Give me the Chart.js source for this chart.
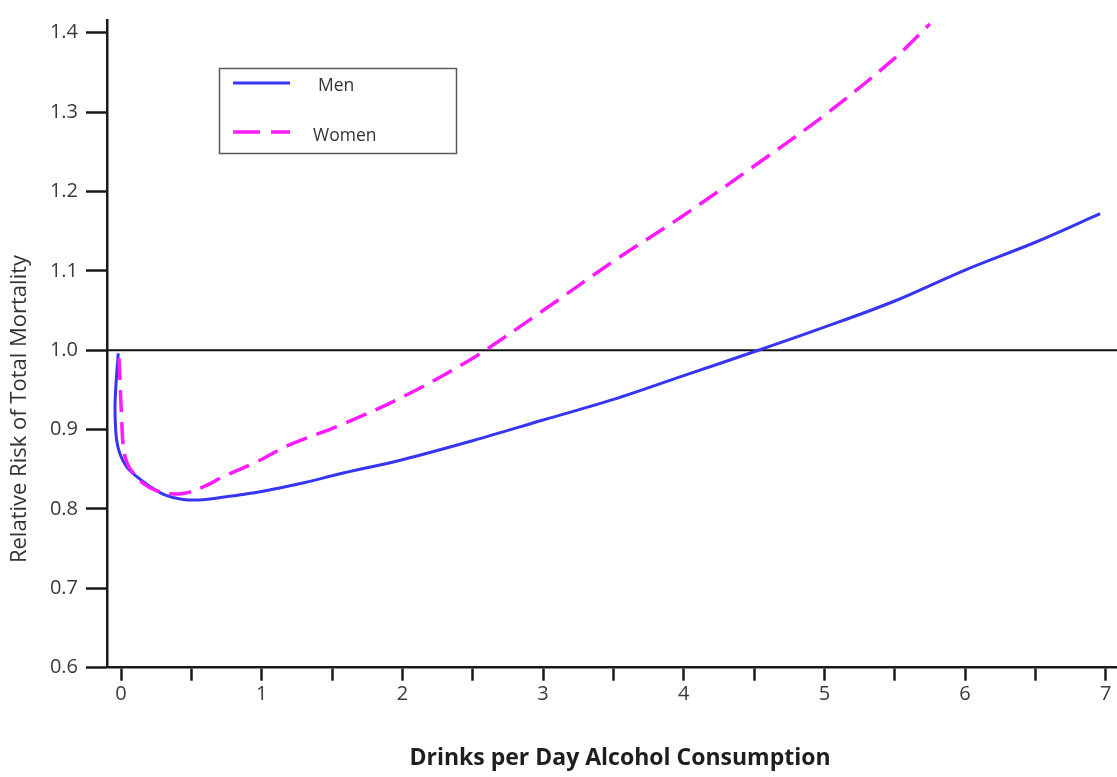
<!DOCTYPE html>
<html>
<head>
<meta charset="utf-8">
<script src="https://cdn.jsdelivr.net/npm/chart.js@4.4.1/dist/chart.umd.min.js"></script>
<style>
  html, body { margin: 0; padding: 0; background: #ffffff; }
  #wrap { width: 1117px; height: 777px; }
</style>
</head>
<body>
<div id="wrap"><canvas id="c" width="1117" height="777"></canvas></div>
<script>
// Relative risk of total mortality by daily alcohol consumption
const menX   = [-0.02, -0.035, -0.043, -0.04, -0.03, -0.007, 0.04, 0.11, 0.2, 0.32, 0.44, 0.6, 0.85, 1.0, 1.3, 1.55, 2.0, 2.5, 3.0, 3.5, 4.0, 4.5, 5.0, 5.5, 6.0, 6.5, 6.96];
const menY   = [0.996, 0.96, 0.93, 0.905, 0.885, 0.869, 0.853, 0.841, 0.829, 0.817, 0.812, 0.812, 0.818, 0.822, 0.833, 0.844, 0.862, 0.886, 0.912, 0.938, 0.968, 0.998, 1.029, 1.062, 1.101, 1.136, 1.172];

const womenX = [-0.015, -0.005, 0.005, 0.012, 0.025, 0.05, 0.087, 0.16, 0.25, 0.36, 0.46, 0.6, 0.73, 0.96, 1.2, 1.55, 2.0, 2.5, 3.0, 3.5, 4.0, 4.5, 5.0, 5.5, 5.75];
const womenY = [0.99, 0.95, 0.91, 0.885, 0.868, 0.855, 0.845, 0.832, 0.823, 0.819, 0.82, 0.829, 0.841, 0.859, 0.881, 0.905, 0.941, 0.99, 1.05, 1.112, 1.17, 1.232, 1.296, 1.368, 1.411];

const seriesNames = ['Men', 'Women'];
const referenceLevel = 1.0;

const xTicks = [0, 0.5, 1, 1.5, 2, 2.5, 3, 3.5, 4, 4.5, 5, 5.5, 6, 6.5, 7];
const xTickLabels = ['0', '', '1', '', '2', '', '3', '', '4', '', '5', '', '6', '', '7'];
const yTicks = [0.6, 0.7, 0.8, 0.9, 1.0, 1.1, 1.2, 1.3, 1.4];
const yTickLabels = ['0.6', '0.7', '0.8', '0.9', '1.0', '1.1', '1.2', '1.3', '1.4'];

const xTitle = 'Drinks per Day Alcohol Consumption';
const yTitle = 'Relative Risk of Total Mortality';

const xRange = [-0.1, 7.08];
const yRange = [0.6, 1.416];

const toPoints = (xs, ys) => xs.map((x, i) => ({ x: x, y: ys[i] }));

// Boxed key inside the plot plus both axis titles
const annotations = {
  id: 'annotations',
  afterDatasetsDraw(chart) {
    const ctx = chart.ctx;
    ctx.save();
    ctx.strokeStyle = '#5a5a5a';
    ctx.lineWidth = 1.5;
    ctx.strokeRect(219.5, 68.5, 237, 85);
    const rows = [
      { ly: 83, tx: 318, ty: 86, dash: [] },
      { ly: 132, tx: 313, ty: 136, dash: [27, 11] }
    ];
    chart.data.datasets.slice(0, 2).forEach((ds, i) => {
      const r = rows[i];
      ctx.strokeStyle = ds.borderColor;
      ctx.lineWidth = ds.borderWidth;
      ctx.setLineDash(r.dash);
      ctx.beginPath();
      ctx.moveTo(233, r.ly);
      ctx.lineTo(290, r.ly);
      ctx.stroke();
      ctx.setLineDash([]);
      ctx.fillStyle = '#333333';
      ctx.font = '17.5px "Open Sans"';
      ctx.textBaseline = 'middle';
      ctx.textAlign = 'left';
      ctx.fillText(ds.label, r.tx, r.ty);
    });

    ctx.fillStyle = '#1e1e1e';
    ctx.font = 'bold 23px "Open Sans"';
    ctx.textAlign = 'center';
    ctx.textBaseline = 'middle';
    ctx.fillText(xTitle, 620, 758);

    ctx.translate(20, 409);
    ctx.rotate(-Math.PI / 2);
    ctx.fillStyle = '#333333';
    ctx.font = '22px "Open Sans"';
    ctx.fillText(yTitle, 0, 0);
    ctx.restore();
  }
};

new Chart(document.getElementById('c'), {
  type: 'line',
  data: {
    datasets: [
      {
        label: seriesNames[0],
        data: toPoints(menX, menY),
        borderColor: '#3535f2',
        borderWidth: 3,
        pointRadius: 0,
        tension: 0.35,
        fill: false,
        order: 1
      },
      {
        label: seriesNames[1],
        data: toPoints(womenX, womenY),
        borderColor: '#ff1aff',
        borderWidth: 3.5,
        borderDash: [22, 10],
        pointRadius: 0,
        tension: 0.35,
        fill: false,
        order: 0
      },
      {
        label: 'reference',
        data: [{ x: xRange[0], y: referenceLevel }, { x: xRange[1], y: referenceLevel }],
        borderColor: '#111111',
        borderWidth: 2,
        pointRadius: 0,
        tension: 0,
        fill: false,
        order: 2
      }
    ]
  },
  options: {
    responsive: false,
    animation: false,
    events: [],
    layout: { padding: { top: 12.7, right: 0, bottom: 0, left: 0 } },
    plugins: {
      legend: { display: false },
      tooltip: { enabled: false }
    },
    scales: {
      x: {
        type: 'linear',
        min: xRange[0],
        max: xRange[1],
        afterBuildTicks: s => { s.ticks = xTicks.map(v => ({ value: v })); },
        afterFit: s => { s.height = 109.3; },
        border: { display: true, color: '#1a1a1a', width: 2.5 },
        grid: { drawOnChartArea: false, drawTicks: true, tickLength: 13, tickColor: '#1a1a1a', tickWidth: 2.5 },
        ticks: {
          autoSkip: false,
          maxRotation: 0,
          padding: 2,
          color: '#3a3a3a',
          font: { family: '"Open Sans"', size: 20 },
          callback: (v, i) => xTickLabels[i]
        },
        title: { display: false }
      },
      y: {
        type: 'linear',
        min: yRange[0],
        max: yRange[1],
        afterBuildTicks: s => { s.ticks = yTicks.map(v => ({ value: v })); },
        afterFit: s => { s.width = 107; },
        border: { display: true, color: '#1a1a1a', width: 2.5 },
        grid: { drawOnChartArea: false, drawTicks: true, tickLength: 21, tickColor: '#1a1a1a', tickWidth: 2.5 },
        ticks: {
          autoSkip: false,
          padding: 8,
          color: '#3a3a3a',
          font: { family: '"Open Sans"', size: 20 },
          callback: (v, i) => yTickLabels[i]
        },
        title: { display: false }
      }
    }
  },
  plugins: [annotations]
});
</script>
</body>
</html>
